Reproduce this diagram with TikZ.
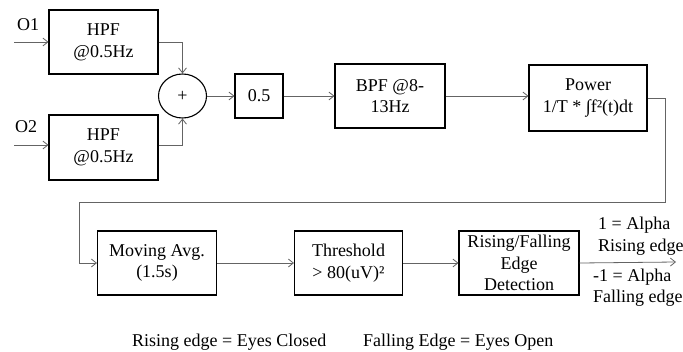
\documentclass[tikz,border=0pt]{standalone}
\usepackage{fontspec}
\setmainfont{Liberation Serif}
\usepackage{tikz}
\usetikzlibrary{
  arrows.meta,
  shapes.geometric,
  positioning,
  calc
}
\definecolor{xline}{RGB}{100,100,100}

\begin{document}
\begin{tikzpicture}[x=1pt, y=-1pt,
  block/.style={draw=black, line width=1.1pt, inner sep=2pt, align=center,
                font=\fontsize{18}{21.7}\selectfont},
  sumnode/.style={draw=black, line width=1.1pt, ellipse, minimum width=48pt, minimum height=44pt,
                  inner sep=0pt, font=\fontsize{18}{21.7}\selectfont},
  lbl/.style={inner sep=0pt, anchor=west, font=\fontsize{18}{21.7}\selectfont},
  arr/.style={-{Straight Barb[length=5pt, width=8pt]}, draw=xline, line width=0.8pt},
  wire/.style={draw=xline, line width=0.8pt}
]
  \useasboundingbox (0,0) rectangle (683,351);

  % input stage
  \node[block, minimum width=109pt, minimum height=64pt] (hpfA) at (103.5, 42) {HPF\\@0.5Hz};
  \node[block, minimum width=109pt, minimum height=65pt] (hpfB) at (103.5, 147.5) {HPF\\@0.5Hz};
  \node[sumnode] (sum) at (182.5, 96) {+};
  \node[block, minimum width=48pt, minimum height=44pt] (gain) at (259, 96) {0.5};
  \node[block, minimum width=110pt, minimum height=64pt] (bpf) at (390, 96) {BPF @8-\\13Hz};
  \node[block, minimum width=118pt, minimum height=66pt] (power) at (588, 98) {Power\\1/T * ∫f²(t)dt};

  % detection stage
  \node[block, minimum width=119pt, minimum height=64pt] (mavg) at (157, 263) {Moving Avg.\\(1.5s)};
  \node[block, minimum width=108pt, minimum height=64pt] (thresh) at (348.5, 263) {Threshold\\> 80(uV)²};
  \node[block, minimum width=120pt, minimum height=64pt] (edge) at (519, 263) {Rising/Falling\\Edge\\Detection};

  \node[lbl] (inAlbl) at (17, 25) {O1};
  \node[lbl] (inBlbl) at (15, 127) {O2};
  \coordinate (inA) at (14, 42);
  \coordinate (inB) at (14, 145);
  \coordinate (loopR) at (665, 202);
  \coordinate (loopL) at (79, 202);
  \coordinate (out) at (676, 262);

  \draw[arr] (inA) -- (inA -| hpfA.west);
  \draw[arr] (inB) -- (inB -| hpfB.west);
  \draw[arr] (hpfA.east) -| (sum.north);
  \draw[arr] (inB -| hpfB.east) -| (sum.south);
  \draw[arr] (sum.east) -- (gain.west);
  \draw[arr] (gain.east) -- (gain.east -| bpf.west);
  \draw[arr] (bpf.east) -- (bpf.east -| power.west);
  \draw[wire] (power.east) -| (loopR) -- (loopL);
  \draw[arr] (loopL) |- (mavg.west);
  \draw[arr] (mavg.east) -- (thresh.west);
  \draw[arr] (thresh.east) -- (edge.west);
  \draw[arr] (edge.east) -- (out);

  % output labels
  \node[lbl] (riseA) at (598, 225) {1 = Alpha};
  \node[lbl] (riseB) at (598, 247) {Rising edge};
  \node[lbl] (fallA) at (593, 277) {-1 = Alpha};
  \node[lbl] (fallB) at (593, 298) {Falling edge};

  \node[lbl] (noteA) at (132, 342) {Rising edge = Eyes Closed};
  \node[lbl] (noteB) at (363, 342) {Falling Edge = Eyes Open};
\end{tikzpicture}
\end{document}
